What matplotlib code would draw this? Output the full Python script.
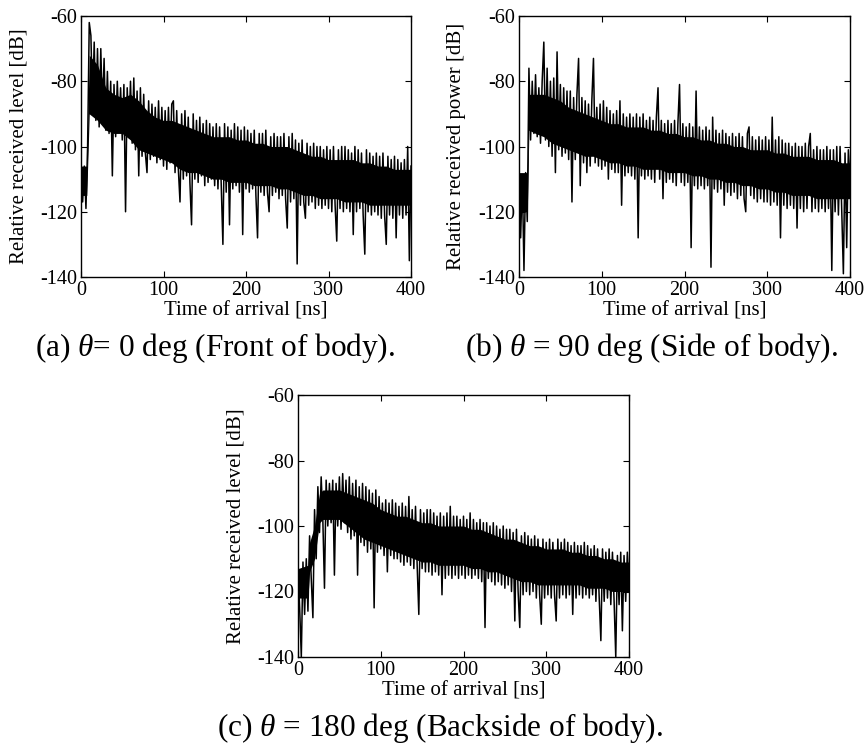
import matplotlib
matplotlib.use("Agg")
import matplotlib.pyplot as plt
import numpy as np

plt.rcParams['font.family'] = ['Liberation Serif', 'DejaVu Serif']
plt.rcParams['mathtext.fontset'] = 'custom'
plt.rcParams['mathtext.it'] = 'Liberation Serif:italic'
plt.rcParams['mathtext.rm'] = 'Liberation Serif'
plt.rcParams['axes.unicode_minus'] = False

# time axis of the samples [ns], 2 ns step
time_ns = list(range(0, 401, 2))

# (a) theta = 0 deg, front of body  [dB]
level_front = [
    -104, -117, -106, -119, -100, -62, -66, -88, -68, -92,
    -70, -94, -70, -90, -73, -95, -77, -96, -80, -109,
    -81, -97, -80, -95, -82, -98, -81, -120, -82, -96,
    -80, -99, -79, -101, -83, -109, -82, -103, -84, -102,
    -108, -86, -104, -87, -103, -88, -105, -86, -104, -88,
    -106, -89, -107, -88, -105, -87, -86, -108, -89, -107,
    -117, -90, -110, -89, -109, -91, -111, -124, -90, -110,
    -92, -111, -91, -109, -93, -112, -92, -111, -93, -110,
    -94, -112, -93, -113, -94, -112, -130, -93, -114, -94,
    -124, -95, -113, -93, -112, -94, -114, -95, -127, -94,
    -113, -95, -114, -96, -113, -95, -115, -128, -96, -114,
    -96, -115, -95, -114, -120, -97, -115, -96, -114, -97,
    -116, -97, -115, -96, -116, -125, -97, -117, -96, -116,
    -98, -136, -99, -118, -98, -117, -122, -99, -118, -100,
    -117, -99, -119, -100, -118, -100, -119, -101, -118, -100,
    -119, -101, -120, -100, -118, -129, -101, -119, -100, -120,
    -100, -119, -101, -120, -102, -127, -100, -120, -101, -119,
    -102, -121, -133, -101, -120, -102, -121, -103, -120, -102,
    -121, -103, -122, -102, -121, -130, -103, -121, -104, -122,
    -103, -128, -104, -121, -105, -122, -104, -121, -100, -135,
    -106,
]

# (b) theta = 90 deg, side of body  [dB]
level_side = [
    -106, -128, -109, -138, -108, -123, -76, -98, -80, -96,
    -78, -97, -82, -99, -80, -68, -98, -76, -100, -80,
    -103, -79, -108, -71, -101, -81, -103, -82, -102, -83,
    -104, -83, -117, -85, -104, -84, -73, -112, -85, -105,
    -86, -108, -87, -106, -86, -73, -105, -88, -106, -87,
    -107, -86, -106, -88, -110, -89, -107, -90, -108, -89,
    -108, -86, -118, -90, -109, -91, -108, -90, -109, -91,
    -110, -90, -128, -91, -109, -90, -110, -92, -109, -91,
    -110, -92, -111, -91, -82, -110, -92, -116, -93, -111,
    -92, -110, -93, -111, -92, -112, -93, -81, -111, -93,
    -112, -94, -111, -93, -131, -94, -112, -83, -113, -94,
    -112, -95, -113, -94, -112, -95, -137, -91, -113, -95,
    -114, -96, -113, -95, -118, -96, -114, -97, -115, -96,
    -114, -97, -116, -96, -115, -97, -116, -120, -96, -94,
    -115, -97, -116, -98, -117, -97, -116, -98, -117, -97,
    -117, -98, -118, -91, -117, -98, -118, -97, -128, -98,
    -118, -99, -119, -99, -118, -100, -119, -99, -125, -100,
    -119, -100, -120, -99, -119, -100, -96, -120, -101, -119,
    -100, -120, -101, -119, -101, -120, -100, -119, -101, -138,
    -101, -120, -100, -121, -100, -120, -139, -102, -131, -101,
    -110,
]

# (c) theta = 180 deg, backside of body  [dB]
level_back = [
    -112, -125, -140, -111, -127, -110, -126, -103, -116, -128,
    -95, -110, -88, -102, -85, -98, -119, -86, -100, -87,
    -99, -86, -115, -87, -100, -85, -101, -84, -99, -86,
    -102, -85, -104, -87, -103, -86, -115, -88, -105, -87,
    -106, -88, -108, -89, -107, -90, -125, -89, -108, -91,
    -107, -93, -109, -92, -114, -93, -109, -92, -110, -93,
    -110, -94, -111, -93, -112, -94, -111, -91, -112, -95,
    -113, -94, -112, -127, -95, -113, -96, -114, -95, -114,
    -95, -115, -96, -114, -97, -115, -96, -121, -97, -116,
    -96, -115, -94, -116, -97, -115, -97, -116, -98, -115,
    -97, -116, -98, -115, -96, -116, -98, -115, -99, -116,
    -98, -117, -99, -131, -99, -116, -100, -117, -99, -118,
    -100, -117, -101, -118, -100, -119, -101, -118, -101, -120,
    -102, -129, -101, -120, -131, -103, -121, -102, -120, -103,
    -121, -104, -120, -103, -122, -104, -121, -130, -104, -122,
    -105, -121, -104, -122, -105, -121, -129, -104, -122, -105,
    -121, -104, -122, -105, -121, -106, -127, -105, -122, -106,
    -121, -106, -122, -105, -121, -106, -122, -107, -121, -106,
    -123, -107, -122, -135, -107, -123, -108, -122, -107, -124,
    -108, -123, -140, -109, -124, -108, -132, -109, -123, -108,
    -118,
]

# dense core of each trace (where the samples overlap into a solid band) [dB]
core_t_front = [0, 7, 10, 20, 30, 40, 50, 60, 70, 80, 90, 100, 110, 120, 130,
                140, 150, 160, 170, 180, 190, 200, 210, 220, 230, 240, 250,
                260, 270, 280, 290, 300, 310, 320, 330, 340, 350, 360, 370,
                380, 390, 400]
core_top_front = [-106, -106, -72, -75, -82, -84, -85, -84, -86, -89, -91, -92,
                  -92, -93, -94, -95, -96, -97, -97, -97, -98, -98, -99, -99,
                  -100, -100, -100, -101, -102, -103, -103, -104, -104, -104,
                  -104, -105, -105, -106, -106, -107, -107, -107]
core_bot_front = [-115, -115, -90, -92, -95, -96, -96, -98, -101, -102, -103,
                  -104, -105, -107, -108, -108, -109, -110, -110, -111, -111,
                  -111, -112, -112, -112, -113, -113, -114, -115, -115, -116,
                  -116, -116, -117, -117, -117, -118, -118, -118, -118, -118,
                  -118]

core_t_side = [0, 10, 12, 20, 30, 40, 50, 60, 70, 80, 90, 100, 110, 120, 130,
               140, 150, 160, 170, 180, 190, 200, 210, 220, 230, 240, 250, 260,
               270, 280, 290, 300, 310, 320, 330, 340, 350, 360, 370, 380, 390,
               400]
core_top_side = [-108, -108, -84, -84, -84, -85, -86, -88, -89, -90, -91, -92,
                 -93, -93, -94, -94, -94, -95, -95, -96, -96, -97, -97, -98,
                 -98, -99, -99, -100, -100, -101, -101, -101, -102, -102, -103,
                 -103, -103, -104, -104, -104, -105, -105]
core_bot_side = [-120, -120, -95, -96, -97, -99, -100, -101, -102, -103, -103,
                 -104, -105, -105, -106, -106, -107, -107, -107, -108, -108,
                 -108, -109, -109, -110, -110, -111, -111, -112, -112, -113,
                 -113, -114, -114, -115, -115, -115, -116, -116, -116, -116,
                 -116]

core_t_back = [0, 12, 14, 20, 26, 30, 40, 50, 60, 70, 80, 90, 100, 110, 120,
               130, 140, 150, 160, 170, 180, 190, 200, 210, 220, 230, 240, 250,
               260, 270, 280, 290, 300, 310, 320, 330, 340, 350, 360, 370, 380,
               390, 400]
core_top_back = [-113, -112, -105, -100, -90, -89, -89, -89, -90, -91, -92,
                 -93, -95, -96, -97, -97, -98, -99, -99, -100, -100, -100, -100,
                 -101, -101, -102, -103, -104, -104, -105, -106, -106, -107,
                 -107, -107, -108, -108, -109, -109, -110, -110, -111, -111]
core_bot_back = [-122, -122, -114, -110, -99, -98, -98, -98, -100, -102, -104,
                 -105, -106, -107, -108, -109, -110, -111, -111, -112, -112,
                 -112, -112, -113, -113, -114, -114, -115, -116, -117, -117,
                 -118, -118, -118, -118, -118, -118, -119, -119, -119, -120,
                 -120, -120]

x_ticks = [0, 100, 200, 300, 400]
y_ticks = [-140, -120, -100, -80, -60]

panels = [
    dict(y=level_front, ct=core_t_front, ctop=core_top_front, cbot=core_bot_front,
         ylabel='Relative received level [dB]',
         caption=r'(a) $\theta$= 0 deg (Front of body).',
         rect=[81, 16, 330, 261], cap=(215, 356)),
    dict(y=level_side, ct=core_t_side, ctop=core_top_side, cbot=core_bot_side,
         ylabel='Relative received power [dB]',
         caption=r'(b) $\theta$ = 90 deg (Side of body).',
         rect=[519, 16, 331, 261], cap=(652, 356)),
    dict(y=level_back, ct=core_t_back, ctop=core_top_back, cbot=core_bot_back,
         ylabel='Relative received level [dB]',
         caption=r'(c) $\theta$ = 180 deg (Backside of body).',
         rect=[298, 395, 331, 262], cap=(440, 736)),
]

W, H = 867, 749
fig = plt.figure(figsize=(W / 100, H / 100), dpi=100)

for p in panels:
    x0, y0, w, h = p['rect']
    ax = fig.add_axes([x0 / W, 1 - (y0 + h) / H, w / W, h / H])
    ax.fill_between(p['ct'], p['ctop'], p['cbot'], color='black', lw=0)
    ax.plot(time_ns, p['y'], color='black', lw=1.1)
    ax.set_xlim(0, 400)
    ax.set_ylim(-140, -60)
    ax.set_xticks(x_ticks)
    ax.set_yticks(y_ticks)
    ax.tick_params(direction='in', length=4, width=0.8, top=True, right=True,
                   labelsize=14.5, pad=3)
    for s in ax.spines.values():
        s.set_linewidth(1.0)
    ax.set_xlabel('Time of arrival [ns]', fontsize=15, labelpad=1)
    ax.set_ylabel(p['ylabel'], fontsize=15, va='center')
    ax.yaxis.set_label_coords(-62 / w, 0.5)
    cx, cy = p['cap']
    fig.text(cx / W, 1 - cy / H, p['caption'], fontsize=22.5,
             ha='center', va='baseline')

fig.savefig('out.png', dpi=100)
